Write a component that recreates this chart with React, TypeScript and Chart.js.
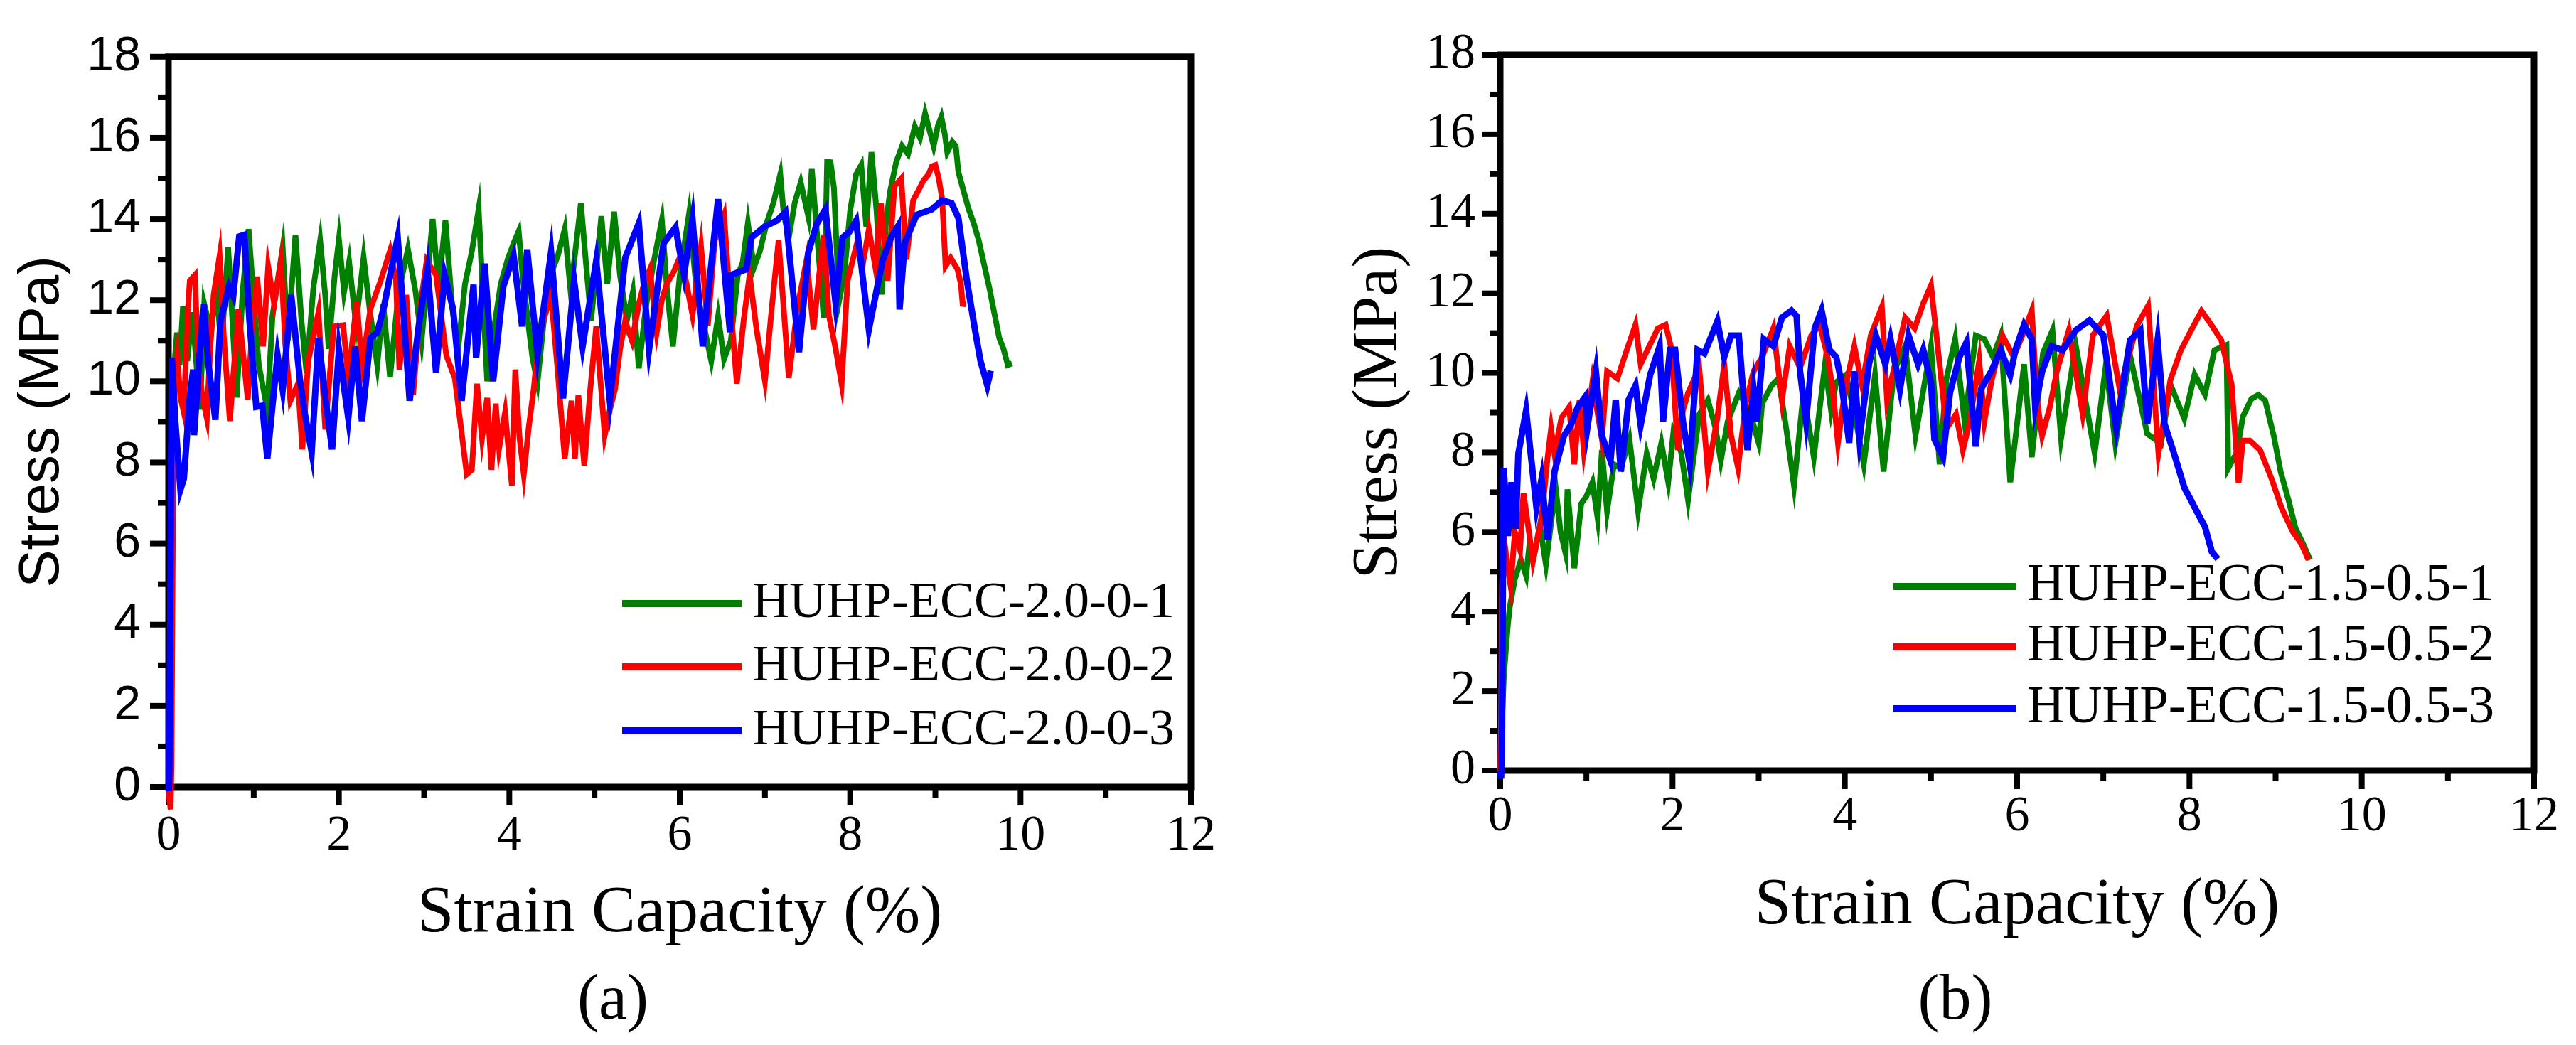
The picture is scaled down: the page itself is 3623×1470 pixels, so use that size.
import React, { useEffect, useRef } from "react";
import Chart from "chart.js/auto";

const SERIF = "'Liberation Serif', 'Times New Roman', Times, serif";
const SANS = "'Liberation Sans', Arial, Helvetica, sans-serif";

type Pt = [number, number];

// ---- data (strain %, stress MPa) ----
const labelsA = ["HUHP-ECC-2.0-0-1", "HUHP-ECC-2.0-0-2", "HUHP-ECC-2.0-0-3"];
const labelsB = ["HUHP-ECC-1.5-0.5-1", "HUHP-ECC-1.5-0.5-2", "HUHP-ECC-1.5-0.5-3"];
const seriesColors = ["#008000", "#ff0000", "#0000ff"];

const greenA: Pt[] = [
  [0, 0], [0.02, 3], [0.04, 8], [0.06, 10.2], [0.1, 11.2], [0.13, 10.4], [0.17, 11.85], [0.22, 10.5],
  [0.28, 11.7], [0.37, 9.3], [0.42, 11.9], [0.5, 11.2], [0.56, 12.4], [0.62, 10.8], [0.7, 13.3], [0.75, 11.5],
  [0.8, 9.6], [0.87, 12.2], [0.94, 13.75], [1.0, 12.0], [1.06, 10.4], [1.16, 9.3], [1.22, 11.6], [1.34, 13.3],
  [1.4, 11.0], [1.49, 13.6], [1.56, 11.5], [1.62, 10.2], [1.7, 12.3], [1.78, 13.47], [1.84, 12.1], [1.88, 10.8],
  [1.95, 12.6], [2.0, 13.5], [2.06, 12.2], [2.12, 12.94], [2.2, 11.4], [2.29, 13.05], [2.36, 11.8], [2.45, 10.4],
  [2.52, 11.9], [2.6, 10.1], [2.7, 12.2], [2.81, 13.26], [2.9, 12.2], [2.97, 11.0], [3.04, 12.6], [3.1, 14.0],
  [3.17, 12.3], [3.25, 13.97], [3.33, 11.8], [3.4, 10.8], [3.48, 12.4], [3.56, 13.2], [3.64, 14.25], [3.69, 12.1],
  [3.74, 10.0], [3.82, 11.3], [3.9, 12.4], [3.98, 13.0], [4.05, 13.4], [4.11, 13.7], [4.16, 12.5], [4.21, 11.63],
  [4.27, 10.6], [4.33, 9.96], [4.4, 11.4], [4.48, 12.6], [4.57, 13.1], [4.65, 13.75], [4.72, 12.2], [4.78, 13.3],
  [4.84, 14.39], [4.9, 12.9], [4.96, 11.5], [5.02, 12.8], [5.08, 14.07], [5.15, 12.4], [5.23, 14.18], [5.3, 12.6],
  [5.38, 11.5], [5.45, 12.2], [5.52, 10.32], [5.6, 11.8], [5.7, 13.0], [5.79, 13.97], [5.85, 12.3], [5.92, 10.86],
  [6.0, 12.6], [6.11, 14.14], [6.2, 12.2], [6.3, 11.2], [6.37, 10.5], [6.45, 11.6], [6.52, 10.55], [6.6, 11.0],
  [6.68, 12.6], [6.74, 12.94], [6.8, 13.9], [6.87, 12.8], [6.94, 13.2], [7.02, 13.9], [7.1, 14.4], [7.18, 15.1],
  [7.22, 14.13], [7.28, 13.54], [7.35, 14.4], [7.42, 14.9], [7.51, 14.05], [7.55, 15.23], [7.62, 13.4], [7.69, 11.56],
  [7.73, 15.41], [7.77, 15.4], [7.81, 14.77], [7.87, 11.98], [7.93, 12.6], [8.0, 14.2], [8.07, 15.1], [8.13, 15.33],
  [8.19, 13.8], [8.25, 15.65], [8.31, 14.2], [8.37, 12.14], [8.42, 13.9], [8.47, 14.69], [8.54, 15.4], [8.61, 15.8],
  [8.68, 15.6], [8.76, 16.28], [8.82, 16.0], [8.88, 16.6], [8.93, 16.2], [8.98, 15.8], [9.03, 16.3], [9.07, 16.52],
  [9.11, 16.1], [9.14, 15.65], [9.2, 15.9], [9.24, 15.8], [9.27, 15.16], [9.33, 14.7], [9.39, 14.25], [9.45, 13.9],
  [9.51, 13.47], [9.57, 12.9], [9.63, 12.34], [9.69, 11.7], [9.75, 11.07], [9.8, 10.8], [9.85, 10.4], [9.9, 10.44],
];

const redA: Pt[] = [
  [0, 0], [0.01, -0.3], [0.025, -0.55], [0.035, 0.5], [0.05, 6], [0.07, 10.2], [0.1, 10.64], [0.14, 9.6],
  [0.18, 9.23], [0.22, 11.5], [0.25, 12.48], [0.31, 12.62], [0.35, 10.36], [0.4, 9.6], [0.45, 9.09], [0.49, 10.8],
  [0.53, 12.13], [0.6, 13.1], [0.65, 11.07], [0.72, 9.02], [0.77, 10.4], [0.82, 11.78], [0.88, 10.6], [0.93, 9.55],
  [0.98, 11.2], [1.04, 12.58], [1.11, 10.86], [1.17, 12.83], [1.24, 11.91], [1.32, 12.97], [1.37, 10.93], [1.43, 9.52],
  [1.52, 9.94], [1.57, 8.32], [1.64, 10.5], [1.76, 11.7], [1.84, 8.81], [1.94, 11.35], [2.05, 11.38], [2.11, 10.08],
  [2.21, 11.98], [2.27, 10.36], [2.37, 11.78], [2.49, 12.48], [2.6, 13.22], [2.67, 12.48], [2.71, 10.29], [2.79, 12.13],
  [2.87, 9.66], [2.96, 11.91], [3.03, 12.97], [3.14, 12.62], [3.26, 10.64], [3.36, 10.08], [3.43, 8.9], [3.5, 7.71],
  [3.56, 7.82], [3.62, 9.94], [3.68, 8.6], [3.74, 9.59], [3.79, 7.82], [3.84, 9.45], [3.88, 8.35], [3.95, 9.23],
  [4.03, 7.43], [4.07, 10.29], [4.12, 8.6], [4.17, 7.71], [4.23, 8.9], [4.29, 9.87], [4.33, 10.78], [4.4, 11.5],
  [4.49, 12.13], [4.57, 10.2], [4.65, 8.1], [4.73, 9.52], [4.77, 8.1], [4.81, 9.66], [4.88, 7.92], [4.95, 9.8],
  [5.02, 11.35], [5.07, 10.0], [5.12, 8.67], [5.18, 9.3], [5.24, 9.8], [5.3, 10.8], [5.36, 11.49], [5.44, 11.0],
  [5.52, 11.9], [5.58, 12.4], [5.65, 12.76], [5.73, 11.21], [5.79, 12.0], [5.85, 12.41], [5.93, 12.7], [6.01, 13.1],
  [6.08, 12.4], [6.15, 11.63], [6.25, 13.32], [6.33, 11.38], [6.41, 13.47], [6.52, 14.1], [6.58, 12.3], [6.67, 9.94],
  [6.75, 11.5], [6.82, 12.62], [6.9, 11.3], [7.0, 10.01], [7.08, 11.8], [7.16, 13.47], [7.22, 11.8], [7.28, 10.08],
  [7.38, 11.8], [7.49, 13.0], [7.57, 11.28], [7.63, 12.5], [7.69, 13.61], [7.75, 11.63], [7.83, 10.8], [7.9, 9.94],
  [7.97, 12.48], [8.07, 13.32], [8.15, 12.9], [8.22, 13.75], [8.3, 12.76], [8.36, 14.39], [8.44, 12.48], [8.52, 14.81],
  [8.6, 15.0], [8.66, 13.0], [8.74, 14.46], [8.8, 14.7], [8.86, 14.95], [8.92, 15.1], [8.96, 15.3], [9.0, 15.33],
  [9.04, 15.0], [9.08, 14.5], [9.12, 12.84], [9.18, 13.04], [9.26, 12.76], [9.3, 12.4], [9.32, 11.91], [9.36, 11.9],
];

const blueA: Pt[] = [
  [0, 0], [0.005, -0.1], [0.01, 0.5], [0.02, 4], [0.03, 8], [0.04, 10.58], [0.08, 9.0], [0.14, 7.33],
  [0.18, 7.6], [0.21, 8.46], [0.25, 9.6], [0.29, 10.29], [0.3, 8.67], [0.36, 10.5], [0.41, 11.91], [0.47, 10.4],
  [0.55, 9.05], [0.61, 11.49], [0.71, 12.34], [0.76, 12.1], [0.83, 13.57], [0.89, 13.61], [0.95, 11.5], [1.03, 9.37],
  [1.1, 9.4], [1.16, 8.1], [1.22, 9.4], [1.28, 10.64], [1.34, 9.8], [1.44, 12.13], [1.54, 10.08], [1.6, 9.2],
  [1.68, 8.25], [1.76, 11.07], [1.84, 9.6], [1.92, 8.32], [2.0, 10.78], [2.11, 9.09], [2.19, 10.86], [2.27, 9.02],
  [2.37, 11.07], [2.45, 11.2], [2.53, 11.85], [2.6, 12.6], [2.69, 13.54], [2.76, 11.6], [2.83, 9.52], [2.94, 11.42],
  [3.04, 12.76], [3.14, 10.22], [3.24, 12.62], [3.34, 11.78], [3.44, 9.52], [3.58, 12.38], [3.61, 10.58], [3.71, 12.9],
  [3.81, 10.0], [3.93, 12.34], [4.05, 13.1], [4.15, 11.35], [4.21, 13.25], [4.33, 10.64], [4.49, 13.18], [4.63, 9.58],
  [4.76, 12.48], [4.86, 10.86], [5.02, 12.97], [5.18, 9.52], [5.36, 13.04], [5.52, 13.9], [5.64, 10.78], [5.81, 13.4],
  [5.95, 13.79], [6.05, 12.62], [6.15, 14.0], [6.27, 10.86], [6.45, 14.49], [6.59, 11.21], [6.6, 12.62], [6.78, 12.76],
  [6.84, 13.54], [7.0, 13.82], [7.14, 13.96], [7.24, 14.17], [7.4, 10.72], [7.51, 13.18], [7.61, 13.89], [7.71, 14.24],
  [7.83, 11.91], [7.91, 13.54], [7.99, 13.68], [8.07, 13.96], [8.22, 11.28], [8.3, 12.13], [8.38, 12.97], [8.48, 13.54],
  [8.56, 13.82], [8.58, 11.77], [8.64, 13.4], [8.78, 14.1], [8.96, 14.24], [9.08, 14.46], [9.19, 14.39], [9.27, 14.03],
  [9.37, 12.48], [9.47, 11.21], [9.53, 10.5], [9.61, 9.9], [9.65, 10.26],
];

const greenB: Pt[] = [
  [0, 0], [0.02, 1.2], [0.04, 2.3], [0.065, 3.03], [0.09, 3.7], [0.11, 4.1], [0.17, 4.82], [0.24, 5.3],
  [0.3, 4.9], [0.34, 5.72], [0.4, 5.5], [0.46, 6.17], [0.53, 5.18], [0.6, 6.4], [0.65, 6.98], [0.7, 6.0],
  [0.76, 5.45], [0.78, 7.07], [0.86, 5.09], [0.94, 6.71], [1.0, 6.9], [1.07, 7.25], [1.13, 6.35], [1.18, 8.06],
  [1.24, 6.53], [1.32, 7.7], [1.4, 7.6], [1.5, 8.33], [1.6, 6.53], [1.7, 7.97], [1.78, 7.34], [1.87, 8.24],
  [1.95, 7.25], [2.01, 8.51], [2.1, 8.0], [2.18, 6.8], [2.31, 8.96], [2.41, 9.32], [2.5, 8.6], [2.56, 7.79],
  [2.64, 8.78], [2.77, 9.5], [2.9, 9.0], [3.0, 8.24], [3.04, 9.23], [3.15, 9.68], [3.23, 9.86], [3.32, 8.6],
  [3.41, 7.16], [3.52, 9.5], [3.64, 7.88], [3.77, 10.22], [3.84, 9.05], [3.9, 9.77], [4.01, 9.95], [4.12, 8.9],
  [4.22, 7.7], [4.35, 9.95], [4.45, 7.52], [4.57, 10.04], [4.7, 10.67], [4.82, 8.42], [5.0, 10.67], [5.1, 7.7],
  [5.18, 9.86], [5.28, 10.85], [5.39, 8.78], [5.52, 10.94], [5.62, 10.85], [5.72, 10.4], [5.81, 10.94], [5.92, 7.25],
  [6.08, 10.22], [6.17, 7.88], [6.3, 10.5], [6.41, 11.07], [6.51, 8.35], [6.68, 10.7], [6.9, 7.98], [7.03, 10.2],
  [7.14, 8.22], [7.31, 10.45], [7.51, 8.47], [7.67, 8.22], [7.78, 9.71], [7.94, 8.85], [8.06, 9.96], [8.18, 9.46],
  [8.29, 10.57], [8.43, 10.7], [8.45, 7.6], [8.55, 8.0], [8.62, 8.9], [8.72, 9.35], [8.8, 9.45], [8.88, 9.3],
  [8.98, 8.4], [9.06, 7.5], [9.15, 6.8], [9.23, 6.1], [9.32, 5.7], [9.4, 5.3],
];

const redB: Pt[] = [
  [0, 0], [0.01, 1.5], [0.02, 4.6], [0.04, 5.9], [0.08, 5.2], [0.12, 4.64], [0.17, 6.0], [0.23, 5.55],
  [0.27, 6.98], [0.38, 5.27], [0.48, 6.35], [0.55, 7.88], [0.59, 8.6], [0.63, 7.97], [0.71, 8.87], [0.8, 9.14],
  [0.86, 7.7], [0.92, 9.32], [0.97, 8.06], [1.07, 9.77], [1.18, 8.33], [1.24, 10.04], [1.36, 9.86], [1.47, 10.58],
  [1.57, 11.21], [1.63, 10.22], [1.71, 10.58], [1.83, 11.12], [1.92, 11.21], [1.99, 10.58], [2.06, 8.06], [2.12, 9.05],
  [2.18, 9.5], [2.31, 10.13], [2.41, 7.52], [2.52, 8.87], [2.6, 10.22], [2.68, 8.42], [2.76, 7.61], [2.85, 9.23],
  [2.94, 10.04], [3.04, 10.4], [3.17, 11.12], [3.27, 9.32], [3.36, 10.67], [3.48, 10.13], [3.61, 10.94], [3.71, 11.21],
  [3.8, 10.4], [3.86, 9.59], [3.92, 8.24], [4.01, 9.68], [4.11, 10.67], [4.2, 9.68], [4.3, 10.94], [4.43, 11.66],
  [4.49, 9.32], [4.6, 10.4], [4.7, 11.39], [4.81, 11.12], [4.91, 11.75], [5.0, 12.2], [5.1, 10.22], [5.18, 8.6],
  [5.29, 8.96], [5.37, 8.06], [5.45, 8.78], [5.56, 10.31], [5.62, 8.78], [5.7, 9.77], [5.83, 10.94], [5.96, 10.4],
  [6.06, 10.94], [6.17, 11.57], [6.23, 9.32], [6.29, 8.42], [6.38, 9.14], [6.46, 10.04], [6.6, 11.07], [6.76, 8.97],
  [6.88, 10.95], [7.04, 11.44], [7.19, 9.58], [7.39, 11.19], [7.52, 11.69], [7.64, 7.98], [7.78, 9.83], [7.9, 10.57],
  [8.02, 11.07], [8.14, 11.56], [8.26, 11.19], [8.37, 10.82], [8.49, 9.71], [8.57, 7.24], [8.62, 8.3], [8.7, 8.3],
  [8.82, 8.06], [8.96, 7.3], [9.07, 6.6], [9.2, 6.0], [9.3, 5.7], [9.38, 5.3],
];

const blueB: Pt[] = [
  [0, 0], [0.01, -0.2], [0.02, 0.6], [0.03, 4.5], [0.04, 7.61], [0.09, 5.9], [0.13, 7.25], [0.18, 6.08],
  [0.21, 7.97], [0.3, 9.05], [0.42, 6.62], [0.48, 7.34], [0.55, 5.81], [0.63, 7.52], [0.74, 8.42], [0.82, 8.69],
  [0.9, 9.14], [0.99, 9.41], [1.01, 8.6], [1.11, 10.04], [1.18, 8.42], [1.28, 7.79], [1.34, 9.32], [1.4, 7.52],
  [1.49, 9.32], [1.57, 9.68], [1.63, 8.69], [1.74, 9.95], [1.85, 10.67], [1.89, 8.78], [1.97, 10.58], [2.03, 10.58],
  [2.12, 8.78], [2.2, 7.7], [2.29, 10.58], [2.37, 10.49], [2.52, 11.3], [2.6, 10.4], [2.68, 10.94], [2.77, 10.94],
  [2.87, 8.06], [2.94, 9.59], [2.98, 8.78], [3.06, 10.85], [3.17, 10.67], [3.27, 11.39], [3.38, 11.57], [3.44, 11.43],
  [3.48, 10.04], [3.55, 8.78], [3.65, 11.12], [3.73, 11.57], [3.82, 10.58], [3.9, 10.4], [3.96, 9.77], [4.05, 8.24],
  [4.11, 10.04], [4.17, 8.33], [4.28, 10.22], [4.36, 10.94], [4.47, 10.22], [4.53, 10.85], [4.64, 9.59], [4.74, 10.94],
  [4.85, 10.22], [4.91, 10.58], [5.0, 9.77], [5.04, 8.33], [5.14, 7.88], [5.22, 9.5], [5.33, 10.4], [5.41, 10.76],
  [5.52, 8.15], [5.58, 9.59], [5.7, 10.04], [5.81, 10.58], [5.92, 9.95], [5.98, 10.58], [6.08, 11.21], [6.17, 10.85],
  [6.21, 9.14], [6.29, 10.04], [6.4, 10.67], [6.53, 10.57], [6.68, 11.07], [6.84, 11.32], [7.0, 10.95], [7.15, 8.6],
  [7.31, 10.82], [7.43, 11.07], [7.51, 8.72], [7.63, 10.82], [7.71, 8.72], [7.82, 7.98], [7.94, 7.12], [8.06, 6.62],
  [8.18, 6.13], [8.26, 5.5], [8.33, 5.32],
];

const xTitle = "Strain Capacity (%)";
const yTitle = "Stress (MPa)";

// frame + outward major/minor ticks, drawn under the curves
const frameTicks = {
  id: "frameTicks",
  beforeDatasetsDraw(chart: any) {
    const { ctx, chartArea: a, scales } = chart;
    const xs = scales.x;
    const ys = scales.y;
    ctx.save();
    ctx.strokeStyle = "#000";
    ctx.lineCap = "butt";
    ctx.lineWidth = 8;
    for (let v = xs.min; v <= xs.max; v += 1) {
      const px = xs.getPixelForValue(v);
      const len = v % 2 === 0 ? 26 : 15;
      ctx.beginPath();
      ctx.moveTo(px, a.bottom);
      ctx.lineTo(px, a.bottom + len);
      ctx.stroke();
    }
    for (let v = ys.min; v <= ys.max; v += 1) {
      const py = ys.getPixelForValue(v);
      const len = v % 2 === 0 ? 26 : 15;
      ctx.beginPath();
      ctx.moveTo(a.left, py);
      ctx.lineTo(a.left - len, py);
      ctx.stroke();
    }
    ctx.lineWidth = 9;
    ctx.lineJoin = "miter";
    ctx.strokeRect(a.left, a.top, a.right - a.left, a.bottom - a.top);
    ctx.restore();
  },
};

// legend inside the plot, one row per dataset
const insideLegend = {
  id: "insideLegend",
  afterDraw(chart: any, _args: any, opts: any) {
    const { ctx } = chart;
    ctx.save();
    ctx.font = `${opts.size}px ${SERIF}`;
    ctx.textBaseline = "middle";
    ctx.textAlign = "left";
    chart.data.datasets.forEach((ds: any, i: number) => {
      const y = opts.rows[i];
      ctx.strokeStyle = ds.borderColor;
      ctx.lineWidth = 10;
      ctx.beginPath();
      ctx.moveTo(opts.lineX0, y);
      ctx.lineTo(opts.lineX1, y);
      ctx.stroke();
      ctx.fillStyle = "#000";
      ctx.fillText(ds.label, opts.textX, y);
    });
    ctx.restore();
  },
};

const panelTag = {
  id: "panelTag",
  afterDraw(chart: any, _args: any, opts: any) {
    const { ctx } = chart;
    ctx.save();
    ctx.font = `${opts.size}px ${SERIF}`;
    ctx.fillStyle = "#000";
    ctx.textAlign = "center";
    ctx.textBaseline = "alphabetic";
    ctx.fillText(opts.text, opts.x, opts.y);
    ctx.restore();
  },
};

interface PanelSpec {
  width: number;
  series: Pt[][];
  labels: string[];
  pad: { top: number; right: number };
  yAxisWidth: number;
  xAxisHeight: number;
  yTickFont: { family: string; size: number };
  yTickPad: number;
  xTickPad: number;
  yTitleFont: { family: string; size: number };
  yTitlePad: number;
  xTitlePad: number;
  legend: any;
  tag: any;
}

function makeConfig(p: PanelSpec): any {
  const widths = [8, 8, 9];
  const orders = [3, 2, 1];
  return {
    type: "line",
    data: {
      datasets: p.series.map((s, i) => ({
        label: p.labels[i],
        data: s.map(([x, y]) => ({ x, y })),
        borderColor: seriesColors[i],
        backgroundColor: seriesColors[i],
        borderWidth: widths[i],
        pointRadius: 0,
        tension: 0,
        clip: false,
        order: orders[i],
        borderJoinStyle: "miter",
      })),
    },
    options: {
      responsive: false,
      maintainAspectRatio: false,
      devicePixelRatio: 1,
      animation: false,
      layout: { autoPadding: false, padding: { left: 0, top: p.pad.top, right: p.pad.right, bottom: 0 } },
      plugins: {
        legend: { display: false },
        tooltip: { enabled: false },
        insideLegend: p.legend,
        panelTag: p.tag,
      },
      scales: {
        x: {
          type: "linear",
          position: "bottom",
          min: 0,
          max: 12,
          grid: { display: false, drawTicks: false },
          border: { display: false },
          ticks: {
            stepSize: 2,
            padding: p.xTickPad,
            color: "#000",
            font: { family: SERIF, size: 70 },
            maxRotation: 0,
          },
          title: {
            display: true,
            text: xTitle,
            color: "#000",
            font: { family: SERIF, size: 93 },
            padding: { top: 0, bottom: p.xTitlePad },
          },
          afterFit: (s: any) => {
            s.height = p.xAxisHeight;
          },
        },
        y: {
          type: "linear",
          position: "left",
          min: 0,
          max: 18,
          grid: { display: false, drawTicks: false },
          border: { display: false },
          ticks: {
            stepSize: 2,
            padding: p.yTickPad,
            color: "#000",
            font: p.yTickFont,
          },
          title: {
            display: true,
            text: yTitle,
            color: "#000",
            font: p.yTitleFont,
            padding: { top: p.yTitlePad, bottom: 0 },
          },
          afterFit: (s: any) => {
            s.width = p.yAxisWidth;
          },
        },
      },
    },
    plugins: [frameTicks, insideLegend, panelTag],
  };
}

const panelA: PanelSpec = {
  width: 1800,
  series: [greenA, redA, blueA],
  labels: labelsA,
  pad: { top: 50, right: 125 },
  yAxisWidth: 237,
  xAxisHeight: 363,
  yTickFont: { family: SANS, size: 68 },
  yTickPad: 39,
  xTickPad: 28,
  yTitleFont: { family: SANS, size: 80 },
  yTitlePad: 12,
  xTitlePad: 129,
  legend: { lineX0: 875, lineX1: 1043, textX: 1058, rows: [849, 938, 1028], size: 72 },
  tag: { text: "(a)", x: 862, y: 1433, size: 90 },
};

const panelB: PanelSpec = {
  width: 1823,
  series: [greenB, redB, blueB],
  labels: labelsB,
  pad: { top: 63, right: 53 },
  yAxisWidth: 310,
  xAxisHeight: 386,
  yTickFont: { family: SERIF, size: 70 },
  yTickPad: 35,
  xTickPad: 24,
  yTitleFont: { family: SERIF, size: 90 },
  yTitlePad: 86,
  xTitlePad: 140,
  legend: { lineX0: 863, lineX1: 1035, textX: 1051, rows: [825, 910, 997], size: 73 },
  tag: { text: "(b)", x: 950, y: 1433, size: 90 },
};

function Panel({ spec, left }: { spec: PanelSpec; left: number }) {
  const canvasRef = useRef<HTMLCanvasElement>(null);

  useEffect(() => {
    if (!canvasRef.current) return;
    const chart = new Chart(canvasRef.current, makeConfig(spec));
    return () => {
      chart.destroy();
    };
  }, [spec]);

  return (
    <canvas
      ref={canvasRef}
      width={spec.width}
      height={1470}
      style={{ position: "absolute", left, top: 0, width: spec.width, height: 1470, display: "block" }}
    />
  );
}

export default function App() {
  return (
    <div style={{ position: "absolute", left: 0, top: 0, width: 3623, height: 1470, background: "#fff", overflow: "hidden" }}>
      <Panel spec={panelA} left={0} />
      <Panel spec={panelB} left={1800} />
    </div>
  );
}
